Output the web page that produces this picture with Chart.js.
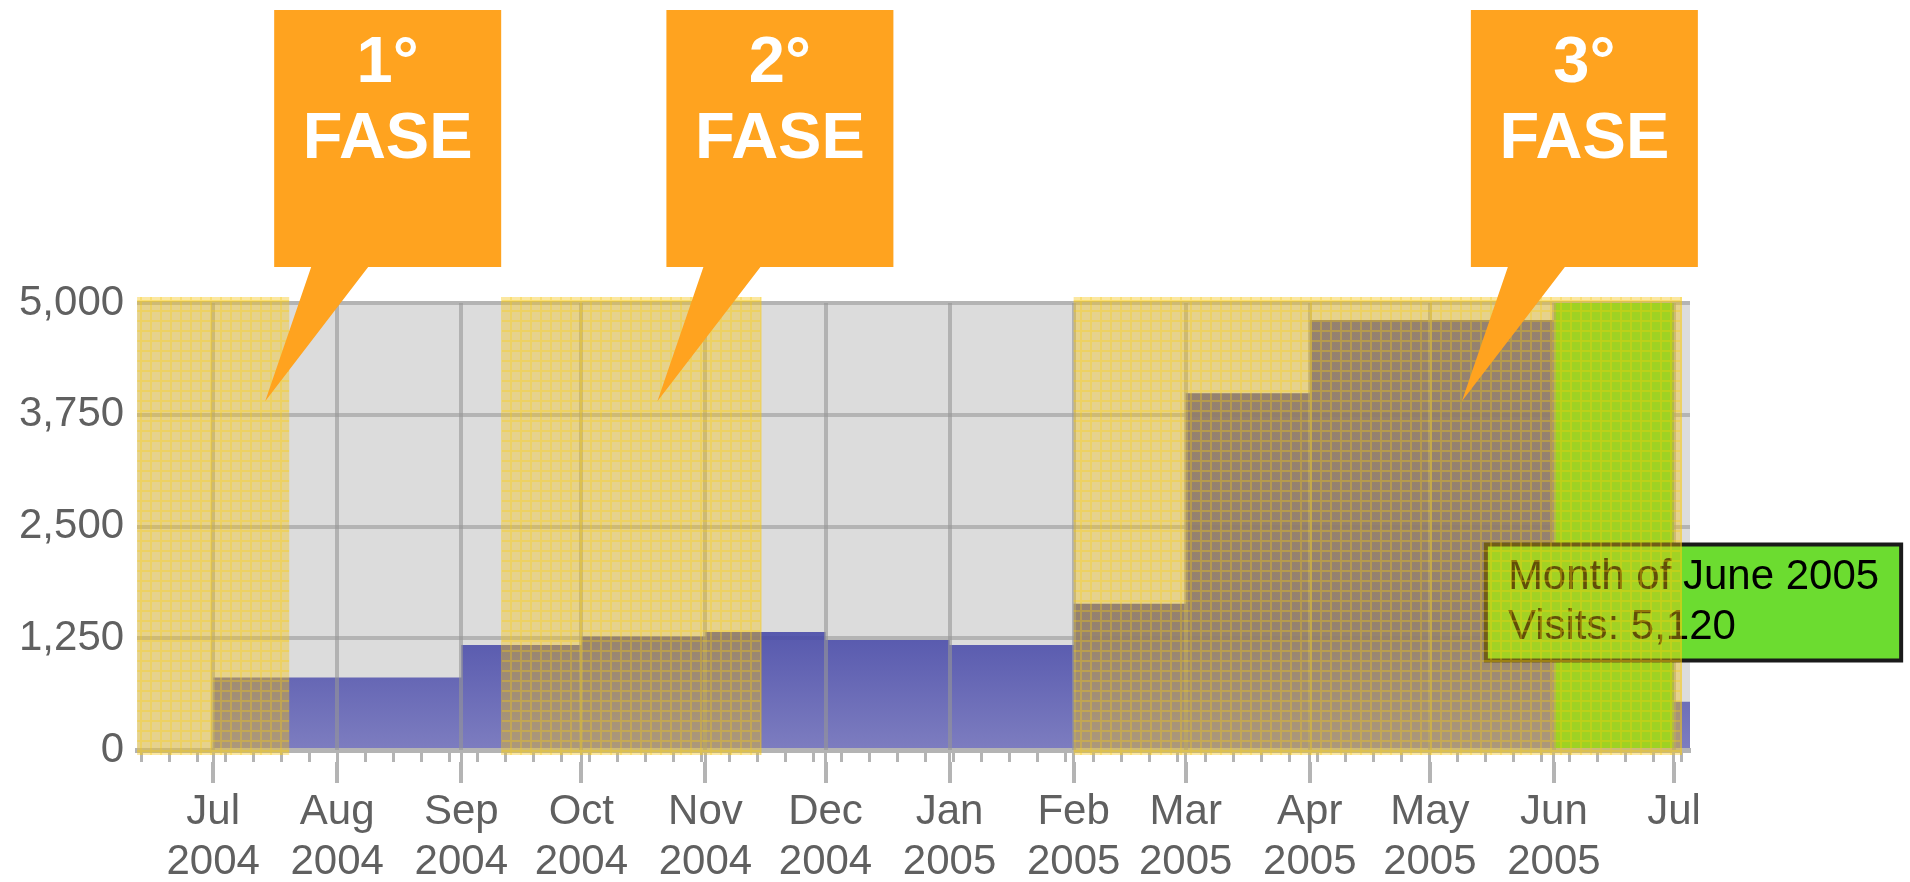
<!DOCTYPE html>
<html>
<head>
<meta charset="utf-8">
<title>Visits</title>
<script src="https://cdn.jsdelivr.net/npm/chart.js@4.4.1/dist/chart.umd.min.js"></script>
<style>
  html, body { margin: 0; padding: 0; background: #ffffff; }
  #wrap { width: 1910px; height: 882px; }
</style>
</head>
<body>
<div id="wrap"><canvas id="myChart"></canvas></div>
<script>
// monthly visits, one value per month start
const months = ['2004-07-01', '2004-08-01', '2004-09-01', '2004-10-01', '2004-11-01', '2004-12-01',
  '2005-01-01', '2005-02-01', '2005-03-01', '2005-04-01', '2005-05-01', '2005-06-01', '2005-07-01'];
const visits = [810, 810, 1175, 1270, 1320, 1230, 1175, 1635, 3990, 4810, 4810, 5120, 540];
const monthLabels = ['Jul', 'Aug', 'Sep', 'Oct', 'Nov', 'Dec', 'Jan', 'Feb', 'Mar', 'Apr', 'May', 'Jun', 'Jul'];
const yearLabels = ['2004', '2004', '2004', '2004', '2004', '2004', '2005', '2005', '2005', '2005', '2005', '2005', ''];
const yTicks = [0, 1250, 2500, 3750, 5000];

const rangeStart = '2004-06-12';
const rangeEnd = '2005-07-05';

// the three phases
const phaseNames = ['1°', '2°', '3°'];
const phaseWord = 'FASE';
const phaseFrom = ['2004-06-12', '2004-09-11', '2005-02-01'];
const phaseTo = ['2004-07-20', '2004-11-15', '2005-07-03'];
const phasePoint = ['2004-07-14', '2004-10-20', '2005-05-09'];
const phasePointVisits = [3900, 3900, 3900];

// hovered month and where the cursor sits
const hoverIndex = 11;
const hoverCursor = ['2005-05-15', 1650];

const FONT = '"Liberation Sans", Arial, Helvetica, sans-serif';
const day = (s) => Date.parse(s + 'T00:00:00Z') / 86400000;

const sundays = [];
for (let d = day(rangeStart) + 1; d <= day(rangeEnd); d++) {
  if (new Date(d * 86400000).getUTCDay() === 0) sundays.push(d);
}
const monthDays = months.map(day);

const steps = months.map((m, i) => ({ x: day(m), y: visits[i] }));
steps.push({ x: day(rangeEnd), y: visits[visits.length - 1] });

const hoverSteps = [
  { x: day(months[hoverIndex]), y: visits[hoverIndex] },
  { x: day(months[hoverIndex + 1]), y: visits[hoverIndex] }
];

function barFill(context) {
  const chart = context.chart;
  const area = chart.chartArea;
  if (!area || !chart.scales.y) return 'rgba(90,92,170,0.85)';
  const g = chart.ctx.createLinearGradient(0, chart.scales.y.getPixelForValue(1400), 0, area.bottom);
  g.addColorStop(0, 'rgba(66,68,166,0.88)');
  g.addColorStop(1, 'rgba(112,112,188,0.88)');
  return g;
}

// yellow mesh used for the phase bands
function meshPattern(ctx) {
  const tile = document.createElement('canvas');
  tile.width = 10;
  tile.height = 10;
  const t = tile.getContext('2d');
  t.fillStyle = 'rgba(245,196,20,0.40)';
  t.fillRect(0, 0, 10, 10);
  t.fillStyle = 'rgba(252,206,10,0.32)';
  t.fillRect(0, 0, 10, 2);
  t.fillRect(0, 2, 2, 8);
  return ctx.createPattern(tile, 'repeat');
}

const plotBackground = {
  id: 'plotBackground',
  beforeDraw(chart) {
    const { ctx, chartArea: a } = chart;
    ctx.save();
    ctx.fillStyle = '#dcdcdc';
    ctx.fillRect(a.left, a.top, a.right - a.left, a.bottom - a.top);
    ctx.restore();
  }
};

const phaseLayer = {
  id: 'phaseLayer',
  afterDraw(chart) {
    const { ctx, chartArea: a, scales } = chart;
    const x = scales.x, y = scales.y;
    ctx.save();
    ctx.fillStyle = meshPattern(ctx);
    phaseFrom.forEach((from, i) => {
      const x0 = x.getPixelForValue(day(from));
      const x1 = x.getPixelForValue(day(phaseTo[i]));
      ctx.fillRect(x0, a.top - 6, x1 - x0, a.bottom - a.top + 11);
    });

    phaseNames.forEach((name, i) => {
      const tx = x.getPixelForValue(day(phasePoint[i]));
      const ty = y.getPixelForValue(phasePointVisits[i]);
      const left = tx + 9, top = 10, w = 227, h = 257;
      ctx.fillStyle = '#ffa31f';
      ctx.beginPath();
      ctx.moveTo(left, top);
      ctx.lineTo(left + w, top);
      ctx.lineTo(left + w, top + h);
      ctx.lineTo(left + 94, top + h);
      ctx.lineTo(tx, ty);
      ctx.lineTo(left + 37, top + h);
      ctx.lineTo(left, top + h);
      ctx.closePath();
      ctx.fill();
      ctx.fillStyle = '#ffffff';
      ctx.font = 'bold 65px ' + FONT;
      ctx.textAlign = 'center';
      ctx.textBaseline = 'alphabetic';
      ctx.fillText(name, left + w / 2, top + 72);
      ctx.fillText(phaseWord, left + w / 2, top + 148);
    });
    ctx.restore();
  }
};

const tooltipPlugin = Chart.Tooltip || Chart.registry.plugins.get('tooltip');
tooltipPlugin.positioners.cursor = function (items, pos) {
  return { x: pos.x, y: pos.y, xAlign: 'left', yAlign: 'center' };
};

const labelFont = { family: FONT, size: 42, lineHeight: 1.18 };
const tipFont = { family: FONT, size: 42, weight: 'normal', lineHeight: 1.05 };

const myChart = new Chart(document.getElementById('myChart'), {
  type: 'line',
  data: {
    datasets: [{
      label: 'Visits',
      data: steps,
      xAxisID: 'x',
      yAxisID: 'y',
      order: 1,
      stepped: 'before',
      fill: 'origin',
      backgroundColor: barFill,
      borderColor: 'transparent',
      borderWidth: 0,
      pointRadius: 0,
      pointHoverRadius: 0
    }, {
      label: 'Visits',
      data: hoverSteps,
      xAxisID: 'x',
      yAxisID: 'y',
      order: 0,
      stepped: 'before',
      fill: 'origin',
      backgroundColor: '#66dd2e',
      borderColor: 'transparent',
      borderWidth: 0,
      pointRadius: 0,
      pointHoverRadius: 0
    }]
  },
  options: {
    responsive: true,
    maintainAspectRatio: false,
    animation: false,
    events: [],
    layout: { padding: { left: 6, top: 303, right: 220, bottom: 0 } },
    plugins: {
      legend: { display: false },
      tooltip: {
        position: 'cursor',
        xAlign: 'left',
        yAlign: 'center',
        caretSize: 0,
        caretPadding: 0,
        cornerRadius: 0,
        displayColors: false,
        backgroundColor: '#6cdc30',
        borderColor: '#1a1a1a',
        borderWidth: 4,
        titleColor: '#000000',
        bodyColor: '#000000',
        titleFont: tipFont,
        bodyFont: tipFont,
        titleMarginBottom: 6,
        padding: { x: 22, y: 11 },
        callbacks: {
          title: (items) => {
            const d = new Date(items[0].parsed.x * 86400000);
            return 'Month of ' + d.toLocaleString('en-US', { month: 'long', timeZone: 'UTC' }) + ' ' + d.getUTCFullYear();
          },
          label: (item) => 'Visits: ' + item.parsed.y.toLocaleString('en-US')
        }
      }
    },
    scales: {
      xw: {
        type: 'linear',
        axis: 'x',
        position: 'bottom',
        weight: 0,
        min: day(rangeStart),
        max: day(rangeEnd),
        afterBuildTicks: (axis) => {
          axis.ticks = sundays.concat(monthDays).sort((a, b) => a - b).map((v) => ({ value: v }));
        },
        ticks: { display: false },
        grid: { drawOnChartArea: false, tickLength: 12, tickWidth: 3, tickColor: '#b4b4b4', color: '#b4b4b4' },
        border: { display: true, width: 5, color: '#b4b4b4', z: 1 }
      },
      x: {
        type: 'linear',
        position: 'bottom',
        weight: 1,
        min: day(rangeStart),
        max: day(rangeEnd),
        afterBuildTicks: (axis) => {
          axis.ticks = monthDays.map((v) => ({ value: v }));
        },
        afterFit: (axis) => { axis.height = 120; },
        ticks: {
          autoSkip: false,
          maxRotation: 0,
          padding: 5,
          color: '#606060',
          font: labelFont,
          callback: (value, index) => yearLabels[index] ? [monthLabels[index], yearLabels[index]] : monthLabels[index]
        },
        grid: { z: 1, color: 'rgba(150,150,150,0.6)', lineWidth: 4, tickLength: 21, tickWidth: 4, tickColor: '#b4b4b4' },
        border: { display: false }
      },
      y: {
        type: 'linear',
        min: 0,
        max: 5000,
        afterBuildTicks: (axis) => {
          axis.ticks = yTicks.map((v) => ({ value: v }));
        },
        ticks: {
          padding: 13,
          color: '#606060',
          font: labelFont,
          callback: (value) => value.toLocaleString('en-US')
        },
        grid: { color: '#b4b4b4', lineWidth: 4, drawTicks: false },
        border: { display: false }
      }
    }
  },
  plugins: [plotBackground, phaseLayer]
});

myChart.tooltip.setActiveElements([{ datasetIndex: 1, index: 0 }], {
  x: myChart.scales.x.getPixelForValue(day(hoverCursor[0])),
  y: myChart.scales.y.getPixelForValue(hoverCursor[1])
});
myChart.update();
</script>
</body>
</html>
